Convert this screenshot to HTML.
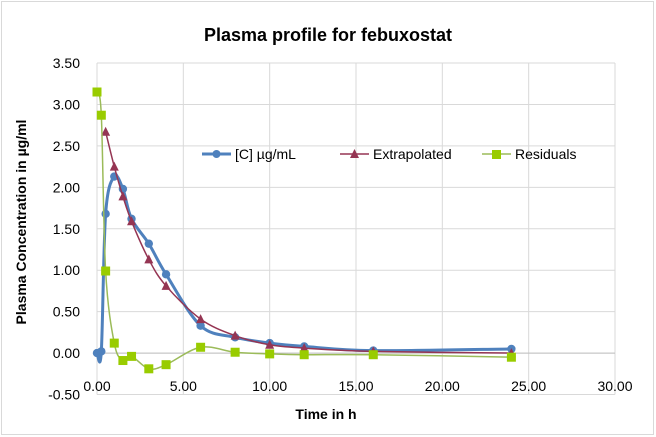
<!DOCTYPE html>
<html><head><meta charset="utf-8"><style>
html,body{margin:0;padding:0;background:#fff}
svg{display:block;font-family:"Liberation Sans",Calibri,sans-serif}
</style></head><body>
<svg id="chart" width="656" height="437">
<rect x="1.5" y="1.5" width="652" height="433" fill="#fff" stroke="#d9d9d9"/>
<text x="328" y="41" text-anchor="middle" font-size="18" font-weight="bold" fill="#000">Plasma profile for febuxostat</text>
<g id="grid"></g><g id="axes"></g><g id="series"></g>
<text x="326" y="419" text-anchor="middle" font-size="14" font-weight="bold">Time in h</text>
<text transform="translate(26,222) rotate(-90)" text-anchor="middle" font-size="14" font-weight="bold">Plasma Concentration in µg/ml</text>
<g>
<g><line x1="202" y1="154" x2="231" y2="154" stroke="#4f81bd" stroke-width="3"/><circle cx="216.5" cy="154" r="4" fill="#4f81bd"/><text x="235" y="159" font-size="14">[C] µg/mL</text></g>
<g><line x1="340" y1="154" x2="369" y2="154" stroke="#953553" stroke-width="1.5"/><polygon points="354.5,149 359,158 350,158" fill="#953553"/><text x="373" y="159" font-size="14">Extrapolated</text></g>
<g><line x1="482" y1="154" x2="511" y2="154" stroke="#9bbb59" stroke-width="1.5"/><rect x="492" y="150" width="9" height="9" fill="#99cc00"/><text x="515" y="159" font-size="14">Residuals</text></g>
</g>
</svg>
<script>
const xTicks=[0,5,10,15,20,25,30];
const yTicks=[-0.5,0,0.5,1,1.5,2,2.5,3,3.5];
const cTimes=[0,0.25,0.5,1,1.5,2,3,4,6,8,10,12,16,24];
const cValues=[0,0.02,1.68,2.13,1.98,1.62,1.32,0.95,0.33,0.19,0.12,0.08,0.03,0.05];
const extTimes=[0.5,1,1.5,2,3,4,6,8,10,12,16,24];
const extValues=[2.67,2.25,1.89,1.59,1.13,0.81,0.41,0.21,0.10,0.06,0.02,0.00];
const resTimes=[0,0.25,0.5,1,1.5,2,3,4,6,8,10,12,16,24];
const resValues=[3.15,2.87,0.99,0.12,-0.09,-0.04,-0.19,-0.14,0.07,0.01,-0.01,-0.02,-0.02,-0.05];
const NS="http://www.w3.org/2000/svg";
const X0=97,X1=615,Y0=394.5,Y1=63;
const sx=v=>X0+(v-0)/30*(X1-X0);
const sy=v=>Y0-(v+0.5)/4*(Y0-Y1);
function mk(t,a,p){const e=document.createElementNS(NS,t);for(const k in a)e.setAttribute(k,a[k]);p.appendChild(e);return e;}
const grid=document.getElementById('grid'),axes=document.getElementById('axes'),ser=document.getElementById('series');
xTicks.forEach(t=>{
  const l=mk('line',{x1:sx(t),x2:sx(t),y1:Y1,y2:Y0,stroke:'#d9d9d9'},grid);
  
  
  const tx=mk('text',{x:sx(t),y:391,'text-anchor':'middle','font-size':'14'},axes);
  tx.textContent=t.toFixed(2);
  
  
});
yTicks.forEach(t=>{
  const l=mk('line',{x1:X0,x2:X1,y1:sy(t),y2:sy(t),stroke:'#d9d9d9'},grid);
  
  
  const tx=mk('text',{x:80,y:sy(t)+5,'text-anchor':'end','font-size':'14'},axes);
  tx.textContent=t.toFixed(2);
  
  
});
const za=mk('line',{x1:X0,x2:X1,y1:sy(0),y2:sy(0),stroke:'#bfbfbf'},axes);


function smooth(pts){
  let d=`M${pts[0][0]},${pts[0][1]}`;const t=0.5/3*2*0.5;
  for(let i=0;i<pts.length-1;i++){
    const p0=pts[i-1]||pts[i],p1=pts[i],p2=pts[i+1],p3=pts[i+2]||p2;
    const c1=[p1[0]+(p2[0]-p0[0])/6,p1[1]+(p2[1]-p0[1])/6];
    const c2=[p2[0]-(p3[0]-p1[0])/6,p2[1]-(p3[1]-p1[1])/6];
    d+=` C${c1[0]},${c1[1]} ${c2[0]},${c2[1]} ${p2[0]},${p2[1]}`;
  }
  return d;
}
function series(times,vals,color,w,marker,fill,name){
  const g=mk('g',{},ser);
  
  
  const pts=times.map((t,i)=>[sx(t),sy(vals[i])]);
  mk('path',{d:smooth(pts),fill:'none',stroke:color,'stroke-width':w},g);
  pts.forEach(p=>{
    let m;
    if(marker==='c')m=mk('circle',{cx:p[0],cy:p[1],r:4.2,fill:fill},g);
    else if(marker==='t')m=mk('polygon',{points:`${p[0]},${p[1]-5} ${p[0]+4.5},${p[1]+4} ${p[0]-4.5},${p[1]+4}`,fill:fill},g);
    else m=mk('rect',{x:p[0]-4.5,y:p[1]-4.5,width:9,height:9,fill:fill},g);
    
    
  });
}
series(cTimes,cValues,'#4f81bd',3,'c','#4f81bd','series-c');
series(extTimes,extValues,'#953553',1.5,'t','#953553','series-extrapolated');
series(resTimes,resValues,'#9bbb59',1.5,'s','#99cc00','series-residuals');
</script>
</body></html>
